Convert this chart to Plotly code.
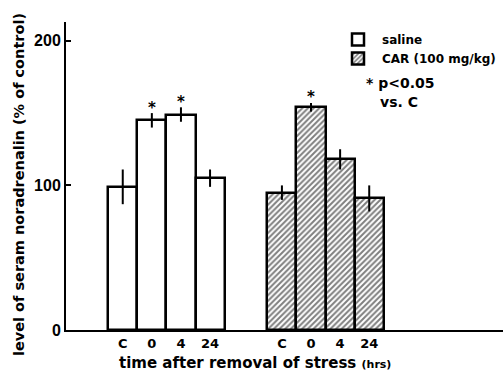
import plotly.graph_objects as go

categories = ["C", "0", "4", "24"]
saline_vals = [99, 145, 149, 105]
saline_err = [12, 5, 5, 6]
car_vals = [95, 154, 118, 91]
car_err = [5, 3, 7, 9]
saline_sig = [False, True, True, False]
car_sig = [False, True, False, False]

ytick_vals = [0, 100, 200]

saline_start = 1.95
car_start = 7.42
sal_x = [saline_start + i for i in range(len(categories))]
car_x = [car_start + i for i in range(len(categories))]

FONT = "DejaVu Sans"
PLOT_TOP, PLOT_BOTTOM, PLOT_LEFT, PLOT_W = 22, 330, 66, 437
H = PLOT_BOTTOM - PLOT_TOP


def px_x(p):
    return (p - PLOT_LEFT) / PLOT_W


def px_y(p):
    return (PLOT_BOTTOM - p) / H


fig = go.Figure()
fig.add_trace(go.Bar(
    x=sal_x, y=saline_vals, width=1.0, name="saline",
    marker=dict(color="white", line=dict(color="black", width=2.5)),
    error_y=dict(type="data", array=saline_err, color="black", thickness=2, width=0),
))
fig.add_trace(go.Bar(
    x=car_x, y=car_vals, width=1.0, name="CAR (100 mg/kg)",
    marker=dict(color="white", line=dict(color="black", width=2.5),
                pattern=dict(shape="/", fgcolor="black", bgcolor="white", size=4, solidity=0.5)),
    error_y=dict(type="data", array=car_err, color="black", thickness=2, width=0),
))

sx, sy = [], []
for xs, vals, errs, sig in [(sal_x, saline_vals, saline_err, saline_sig), (car_x, car_vals, car_err, car_sig)]:
    for x, v, e, s in zip(xs, vals, errs, sig):
        if s:
            sx.append(x)
            sy.append(v + e + 3)
fig.add_trace(go.Scatter(x=sx, y=sy, mode="text", text=["<b>*</b>"] * len(sx), textposition="middle center",
                         textfont=dict(family=FONT, size=15, color="black"), showlegend=False,
                         hoverinfo="skip"))

fig.add_annotation(text="<b>* p<0.05</b>", xref="paper", yref="paper", x=px_x(364), y=px_y(83),
                   xanchor="left", yanchor="middle", showarrow=False,
                   font=dict(family=FONT, size=14, color="black"))
fig.add_annotation(text="<b>vs. C</b>", xref="paper", yref="paper", x=px_x(378), y=px_y(102),
                   xanchor="left", yanchor="middle", showarrow=False,
                   font=dict(family=FONT, size=14, color="black"))
fig.add_annotation(text="<b>time after removal of stress <span style='font-size:11px'>(hrs)</span></b>",
                   xref="paper", yref="paper", x=px_x(255), y=px_y(363),
                   xanchor="center", yanchor="middle", showarrow=False,
                   font=dict(family=FONT, size=15, color="black"))
fig.add_annotation(text="<b>level of seram noradrenalin (% of control)</b>",
                   xref="paper", yref="paper", x=px_x(19), y=px_y(185), textangle=-90,
                   xanchor="center", yanchor="middle", showarrow=False,
                   font=dict(family=FONT, size=14.5, color="black"))

fig.update_layout(
    width=504, height=376,
    margin=dict(l=66, r=1, t=22, b=46, autoexpand=False),
    paper_bgcolor="white", plot_bgcolor="white",
    bargap=0, barmode="overlay",
    showlegend=True,
    legend=dict(x=px_x(334), y=px_y(25), xanchor="left", yanchor="top", bgcolor="rgba(0,0,0,0)",
                font=dict(family=FONT, size=12, color="black", weight="bold"), tracegroupgap=0, itemwidth=38),
    font=dict(family=FONT, color="black"),
)
fig.update_xaxes(range=[0, PLOT_W / 29.1], tickvals=sal_x + car_x, ticktext=categories + categories,
                 showline=True, linecolor="black", linewidth=2, showgrid=False, zeroline=False,
                 ticks="", automargin=False,
                 tickfont=dict(family=FONT, size=13, color="black", weight="bold"))
fig.update_yaxes(range=[0, 213], tickvals=ytick_vals, showline=True, linecolor="black", linewidth=2,
                 showgrid=False, zeroline=False, ticks="inside", ticklen=5, tickwidth=2, tickcolor="black",
                 automargin=False,
                 tickfont=dict(family="Liberation Sans", size=16, color="black", weight="bold"))
fig.write_html("out.html")
